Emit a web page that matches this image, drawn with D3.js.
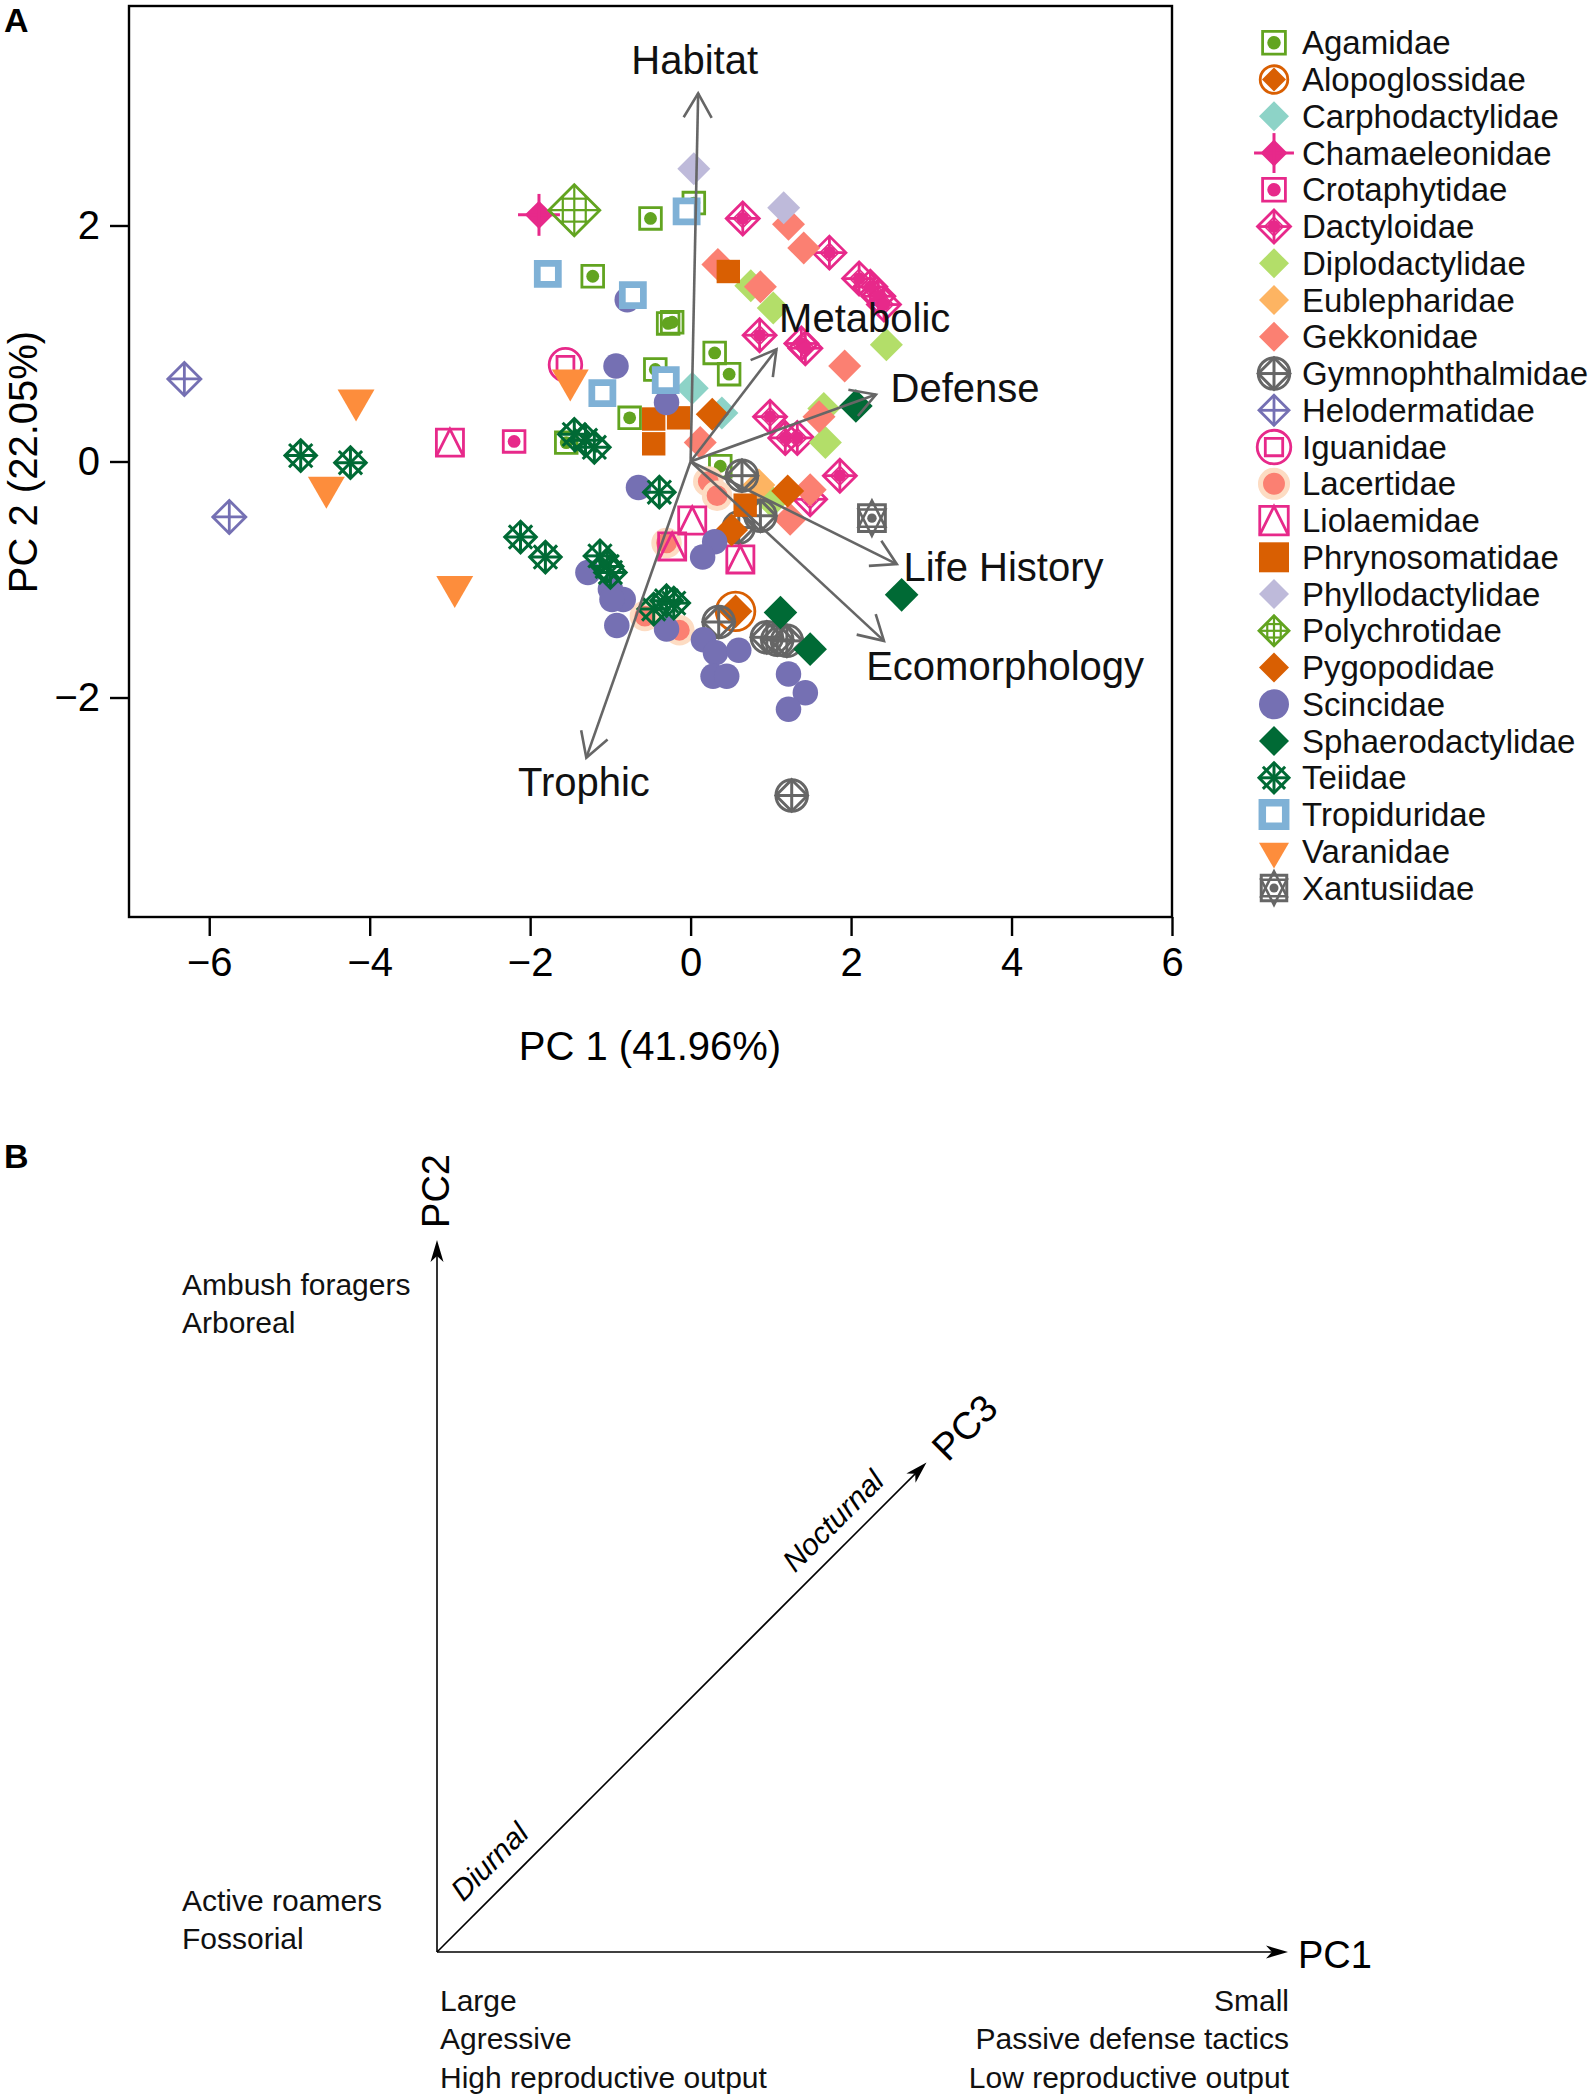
<!DOCTYPE html>
<html><head><meta charset="utf-8">
<script src="https://cdn.jsdelivr.net/npm/d3@7"></script>
<style>
body{margin:0;background:#fff}
svg{display:block}
text{font-family:"Liberation Sans",Arial,Helvetica,sans-serif}
</style>
</head><body>
<svg id="chart" width="1594" height="2096"></svg>
<script>
// ---------------- DATA ----------------
const families = ["Agamidae","Alopoglossidae","Carphodactylidae","Chamaeleonidae","Crotaphytidae","Dactyloidae","Diplodactylidae","Eublepharidae","Gekkonidae","Gymnophthalmidae","Helodermatidae","Iguanidae","Lacertidae","Liolaemidae","Phrynosomatidae","Phyllodactylidae","Polychrotidae","Pygopodidae","Scincidae","Sphaerodactylidae","Teiidae","Tropiduridae","Varanidae","Xantusiidae"];

// [PC1, PC2] per species, grouped by family
const Agamidae = [[-0.50,2.06],[0.04,2.19],[-1.22,1.57],[-0.28,1.17],[-0.23,1.18],[-0.44,0.78],[0.30,0.92],[0.48,0.74],[-0.76,0.37],[-1.55,0.16],[0.37,-0.04]];
const Alopoglossidae = [[0.56,-1.27]];
const Carphodactylidae = [[0.02,0.62],[0.39,0.41]];
const Chamaeleonidae = [[-1.89,2.09]];
const Crotaphytidae = [[-2.20,0.17]];
const Dactyloidae = [[0.65,2.06],[1.73,1.77],[2.10,1.55],[2.24,1.48],[2.34,1.40],[2.41,1.33],[0.86,1.07],[1.38,1.00],[1.43,0.96],[0.99,0.38],[1.18,0.20],[1.33,0.20],[1.86,-0.12],[1.49,-0.32]];
const Diplodactylidae = [[0.75,1.49],[1.03,1.30],[2.44,0.99],[1.66,0.45],[1.68,0.16],[1.01,-0.34]];
const Eublepharidae = [[0.85,-0.20]];
const Gekkonidae = [[1.22,2.01],[1.41,1.81],[0.34,1.67],[0.87,1.48],[1.92,0.81],[1.60,0.38],[0.12,0.16],[1.49,-0.24],[1.24,-0.49]];
const Gymnophthalmidae = [[0.64,-0.12],[0.87,-0.46],[0.60,-0.56],[0.35,-1.36],[0.95,-1.49],[1.08,-1.51],[1.20,-1.52],[1.26,-2.83]];
const Helodermatidae = [[-6.31,0.70],[-5.75,-0.47]];
const Iguanidae = [[-1.56,0.82]];
const Lacertidae = [[0.22,-0.17],[0.33,-0.29],[-0.30,-0.69],[-0.57,-1.31],[-0.14,-1.43]];
const Liolaemidae = [[-3.00,0.16],[0.02,-0.50],[-0.23,-0.72],[0.62,-0.83]];
const Phrynosomatidae = [[0.47,1.61],[-0.46,0.36],[-0.15,0.37],[-0.46,0.15],[0.68,-0.37]];
const Phyllodactylidae = [[0.04,2.48],[1.16,2.15]];
const Polychrotidae = [[-1.45,2.13]];
const Pygopodidae = [[0.27,0.40],[1.21,-0.25],[0.51,-0.58]];
const Scincidae = [[-0.93,0.81],[-0.30,0.50],[-0.79,1.37],[-0.65,-0.22],[0.30,-0.68],[0.15,-0.81],[-1.28,-0.94],[-1.00,-1.08],[-0.84,-1.17],[-0.98,-1.17],[-0.92,-1.39],[-0.30,-1.42],[0.16,-1.51],[0.31,-1.62],[0.60,-1.60],[0.28,-1.82],[0.45,-1.82],[1.22,-1.80],[1.43,-1.96],[1.22,-2.10]];
const Sphaerodactylidae = [[2.06,0.47],[2.63,-1.13],[1.12,-1.28],[1.49,-1.59]];
const Teiidae = [[-4.86,0.05],[-4.24,-0.01],[-1.45,0.23],[-1.31,0.18],[-1.20,0.12],[-0.39,-0.26],[-2.12,-0.64],[-1.81,-0.81],[-1.13,-0.80],[-1.04,-0.89],[-1.00,-0.94],[-0.46,-1.25],[-0.30,-1.18],[-0.21,-1.20]];
const Tropiduridae = [[-0.05,2.12],[-1.78,1.59],[-0.72,1.41],[-1.10,0.58],[-0.31,0.69]];
const Varanidae = [[-1.50,0.69],[-4.17,0.52],[-4.54,-0.22],[-2.94,-1.06]];
const Xantusiidae = [[2.26,-0.48]];

const familyPoints = {Agamidae,Alopoglossidae,Carphodactylidae,Chamaeleonidae,Crotaphytidae,Dactyloidae,Diplodactylidae,Eublepharidae,Gekkonidae,Gymnophthalmidae,Helodermatidae,Iguanidae,Lacertidae,Liolaemidae,Phrynosomatidae,Phyllodactylidae,Polychrotidae,Pygopodidae,Scincidae,Sphaerodactylidae,Teiidae,Tropiduridae,Varanidae,Xantusiidae};

// biplot loadings (arrow tips) and label anchors, in PC units
const loadingNames = ["Habitat","Trophic","Metabolic","Defense","Life History","Ecomorphology"];
const loadingPC1 = [0.094,-1.30,1.07,2.31,2.57,2.41];
const loadingPC2 = [3.12,-2.51,0.95,0.567,-0.87,-1.52];
const labelPC1 = [0.05,-1.33,2.17,3.42,3.90,3.92];
const labelPC2 = [3.40,-2.72,1.22,0.62,-0.89,-1.73];

const xTicks = [-6,-4,-2,0,2,4,6];
const yTicks = [-2,0,2];
const xTitle = "PC 1 (41.96%)";
const yTitle = "PC 2 (22.05%)";

// Panel B text
const pc2HighText = ["Ambush foragers","Arboreal"];
const pc2LowText = ["Active roamers","Fossorial"];
const pc1LowText = ["Large","Agressive","High reproductive output"];
const pc1HighText = ["Small","Passive defense tactics","Low reproductive output"];

// ---------------- STYLE ----------------
const COL = {
  Agamidae:"#62a420", Alopoglossidae:"#d95f02", Carphodactylidae:"#8dd3c7", Chamaeleonidae:"#e7298a",
  Crotaphytidae:"#e7298a", Dactyloidae:"#e7298a", Diplodactylidae:"#b3de69", Eublepharidae:"#fdb462",
  Gekkonidae:"#fb8072", Gymnophthalmidae:"#666666", Helodermatidae:"#7570b3", Iguanidae:"#e7298a",
  Lacertidae:"#fb8072", Liolaemidae:"#e7298a", Phrynosomatidae:"#d95f02", Phyllodactylidae:"#bebada",
  Polychrotidae:"#62a420", Pygopodidae:"#d95f02", Scincidae:"#7570b3", Sphaerodactylidae:"#006a35",
  Teiidae:"#006a35", Tropiduridae:"#7fb1d6", Varanidae:"#fd8d3c", Xantusiidae:"#666666"
};
const PLOT_SCALE = {
  Agamidae:0.95, Alopoglossidae:1.4, Carphodactylidae:1.1, Chamaeleonidae:1.05, Crotaphytidae:0.95,
  Dactyloidae:1.0, Diplodactylidae:1.1, Eublepharidae:1.1, Gekkonidae:1.1, Gymnophthalmidae:1.0,
  Helodermatidae:1.1, Iguanidae:0.97, Lacertidae:0.95, Liolaemidae:0.95, Phrynosomatidae:0.78,
  Phyllodactylidae:1.1, Polychrotidae:1.7, Pygopodidae:1.1, Scincidae:0.85, Sphaerodactylidae:1.12,
  Teiidae:1.05, Tropiduridae:0.9, Varanidae:1.23, Xantusiidae:1.05
};
const SW = 2.8;
const dia = r => `M0,${-r}L${r},0L0,${r}L${-r},0Z`;
const sq = a => `M${-a},${-a}H${a}V${a}H${-a}Z`;

function drawSymbol(g, fam, h){
  const c = COL[fam];
  const L = (x1,y1,x2,y2,w=SW)=>g.append("line").attr("x1",x1).attr("y1",y1).attr("x2",x2).attr("y2",y2)
      .attr("stroke",c).attr("stroke-width",w);
  const P = (d,fill,stroke,w=SW)=>g.append("path").attr("d",d).attr("fill",fill)
      .attr("stroke",stroke).attr("stroke-width",w).attr("stroke-linejoin","miter");
  const Ci = (r,fill,stroke,w=SW)=>g.append("circle").attr("r",r).attr("fill",fill)
      .attr("stroke",stroke).attr("stroke-width",w);
  switch(fam){
    case "Agamidae": case "Crotaphytidae":
      P(sq(0.76*h),"none",c); Ci(0.45*h,c,"none",0); break;
    case "Alopoglossidae":
      Ci(0.92*h,"none",c); P(dia(0.8*h),c,"none",0); break;
    case "Carphodactylidae": case "Diplodactylidae": case "Eublepharidae": case "Gekkonidae":
    case "Phyllodactylidae": case "Pygopodidae": case "Sphaerodactylidae":
      P(dia(h),c,"none",0); break;
    case "Chamaeleonidae":
      P(dia(0.9*h),c,"none",0); L(-1.33*h,0,1.33*h,0,3); L(0,-1.33*h,0,1.33*h,3); break;
    case "Dactyloidae": {
      const r=1.1*h; P(dia(r),"none",c);
      L(0,-r,0,-0.3*h); L(0,r,0,0.3*h); L(-r,0,-0.3*h,0); L(r,0,0.3*h,0);
      P(dia(0.62*h),"none",c,1.6);
      Ci(0.42*h,c,"none",0); break; }
    case "Gymnophthalmidae": {
      const r=1.05*h; Ci(r,"none",c,3); P(dia(r),"none",c,3); L(-r,0,r,0,3); L(0,-r,0,r,3); break; }
    case "Helodermatidae":
      P(dia(h),"none",c); L(-h,0,h,0); L(0,-h,0,h); break;
    case "Iguanidae":
      Ci(1.12*h,"none",c); P(sq(0.58*h),"none",c); break;
    case "Lacertidae":
      Ci(0.9*h,c,"#fddcc3",0.34*h); break;
    case "Liolaemidae": {
      const a=0.95*h; P(sq(a),"none",c); P(`M${-a},${a}L0,${-a}L${a},${a}`,"none",c); break; }
    case "Phrynosomatidae":
      P(sq(h),c,"none",0); break;
    case "Polychrotidae":
      P(dia(h),"none",c);
      [-0.45,0,0.45].forEach(o=>{ const e=(1-Math.abs(o))*h; L(o*h,-e,o*h,e,2.2); L(-e,o*h,e,o*h,2.2); });
      break;
    case "Scincidae":
      Ci(h,c,"none",0); break;
    case "Teiidae": {
      P(dia(h),"none",c,3); L(0,-h,0,h,3); L(-h,0,h,0,3); const a=0.74*h; L(-a,-a,a,a,3); L(-a,a,a,-a,3); break; }
    case "Tropiduridae":
      P(sq(0.78*h),"#fff",c,0.5*h); break;
    case "Varanidae": {
      const r=1.155*h; P(`M0,${r}L${h},${-r/2}L${-h},${-r/2}Z`,c,"none",0); break; }
    case "Xantusiidae": {
      const a=0.85*h; P(sq(a),"none",c,3);
      P(`M0,${-1.12*h}L${a},${0.55*h}L${-a},${0.55*h}Z`,"none",c,2.6);
      P(`M0,${1.12*h}L${a},${-0.55*h}L${-a},${-0.55*h}Z`,"none",c,2.6);
      Ci(0.3*h,c,"none",0); break; }
  }
}

// ---------------- PANEL A ----------------
const svg = d3.select("#chart");
const FONT = '"Liberation Sans",Arial,Helvetica,sans-serif';
const x = d3.scaleLinear().domain([-7,6]).range([129,1172]);
const y = d3.scaleLinear().domain([-3.86,3.86]).range([917,6]);

// points
const pts = [];
families.forEach(f => familyPoints[f].forEach(p => pts.push({fam:f, pc1:p[0], pc2:p[1]})));
svg.append("g").selectAll("g").data(pts).join("g")
  .attr("transform", d=>`translate(${x(d.pc1)},${y(d.pc2)})`)
  .each(function(d){ drawSymbol(d3.select(this), d.fam, 15*PLOT_SCALE[d.fam]); });

// loading arrows
const arrows = loadingNames.map((n,i)=>({name:n, pc1:loadingPC1[i], pc2:loadingPC2[i], lx:labelPC1[i], ly:labelPC2[i]}));
const ag = svg.append("g").attr("stroke","#666").attr("stroke-width",2.6).attr("fill","none");
arrows.forEach(a=>{
  const x0=x(0), y0=y(0), x1=x(a.pc1), y1=y(a.pc2);
  const ang = Math.atan2(y1-y0, x1-x0), hl=28, ha=Math.PI/6;
  ag.append("line").attr("x1",x0).attr("y1",y0).attr("x2",x1).attr("y2",y1);
  ag.append("path").attr("d",
    `M${x1-hl*Math.cos(ang-ha)},${y1-hl*Math.sin(ang-ha)}L${x1},${y1}L${x1-hl*Math.cos(ang+ha)},${y1-hl*Math.sin(ang+ha)}`);
});
svg.append("g").selectAll("text").data(arrows).join("text")
  .attr("x", d=>x(d.lx)).attr("y", d=>y(d.ly)).attr("dy","0.35em")
  .attr("text-anchor","middle").attr("font-size",40).attr("fill","#111").text(d=>d.name);

// frame
svg.append("rect").attr("x",129).attr("y",6).attr("width",1043).attr("height",911)
  .attr("fill","none").attr("stroke","#000").attr("stroke-width",2.4);

// axes
const gx = svg.append("g").attr("transform","translate(0,917)")
  .call(d3.axisBottom(x).tickValues(xTicks).tickSize(19).tickPadding(12).tickFormat(d3.format("d")));
const gy = svg.append("g").attr("transform","translate(129,0)")
  .call(d3.axisLeft(y).tickValues(yTicks).tickSize(19).tickPadding(10).tickFormat(d3.format("d")));
[gx,gy].forEach(g=>{
  g.attr("font-family",FONT).attr("font-size",40);
  g.select(".domain").remove();
  g.selectAll(".tick line").attr("stroke","#000").attr("stroke-width",2.4);
  g.selectAll(".tick text").attr("fill","#000");
});
svg.append("text").attr("x",650).attr("y",1046).attr("dy","0.35em").attr("text-anchor","middle")
  .attr("font-size",40).text(xTitle);
svg.append("text").attr("transform","translate(23,462) rotate(-90)").attr("dy","0.35em")
  .attr("text-anchor","middle").attr("font-size",40).text(yTitle);

svg.append("text").attr("x",4).attr("y",32).attr("font-size",34).attr("font-weight","bold").text("A");

// legend
const lg = svg.append("g").selectAll("g").data(families).join("g")
  .attr("transform",(d,i)=>`translate(1274,${42.8+i*36.75})`);
lg.each(function(d){ drawSymbol(d3.select(this), d, 15); });
lg.append("text").attr("x",28).attr("dy","0.35em").attr("font-size",33).attr("fill","#111").text(d=>d);

// ---------------- PANEL B ----------------
svg.append("text").attr("x",4).attr("y",1168).attr("font-size",34).attr("font-weight","bold").text("B");
const bg = svg.append("g");
const O = [437,1952];
const ends = {pc2:[437,1240], pc1:[1288,1952], pc3:[437+489.5,1952-489.5]};
function headPath(x0,y0,x1,y1){
  const a=Math.atan2(y1-y0,x1-x0), L=22, w=6.5, n=16;
  const cx=Math.cos(a), sy=Math.sin(a);
  const bx=x1-L*cx, by=y1-L*sy, nx=x1-n*cx, ny=y1-n*sy;
  return `M${x1},${y1}L${bx-w*sy},${by+w*cx}L${nx},${ny}L${bx+w*sy},${by-w*cx}Z`;
}
Object.values(ends).forEach(e=>{
  const a=Math.atan2(e[1]-O[1],e[0]-O[0]);
  bg.append("line").attr("x1",O[0]).attr("y1",O[1]).attr("x2",e[0]-14*Math.cos(a)).attr("y2",e[1]-14*Math.sin(a))
    .attr("stroke","#000").attr("stroke-width",1.6);
  bg.append("path").attr("d",headPath(O[0],O[1],e[0],e[1])).attr("fill","#000");
});
bg.append("text").attr("transform","translate(436,1191) rotate(-90)").attr("dy","0.35em")
  .attr("text-anchor","middle").attr("font-size",38).text("PC2");
bg.append("text").attr("x",1298).attr("y",1955).attr("dy","0.35em").attr("font-size",38).text("PC1");
const g3 = bg.append("g").attr("transform",`translate(${O[0]},${O[1]}) rotate(-45)`);
g3.append("text").attr("x",744).attr("y",2).attr("dy","0.35em").attr("text-anchor","middle").attr("font-size",38).text("PC3");
g3.append("text").attr("x",585).attr("y",-25).attr("dy","0.35em").attr("text-anchor","middle")
  .attr("font-size",30).attr("font-style","italic").text("Nocturnal");
g3.append("text").attr("x",101).attr("y",-27).attr("dy","0.35em").attr("text-anchor","middle")
  .attr("font-size",30).attr("font-style","italic").text("Diurnal");

const tb = (arr,x0,y0,anchor)=>arr.forEach((t,i)=>bg.append("text").attr("x",x0).attr("y",y0+i*38.6)
  .attr("dy","0.35em").attr("text-anchor",anchor).attr("font-size",30).attr("fill","#111").text(t));
tb(pc2HighText,182,1284,"start");
tb(pc2LowText,182,1900,"start");
tb(pc1LowText,440,2000,"start");
tb(pc1HighText,1289,2000,"end");
</script>
</body></html>
